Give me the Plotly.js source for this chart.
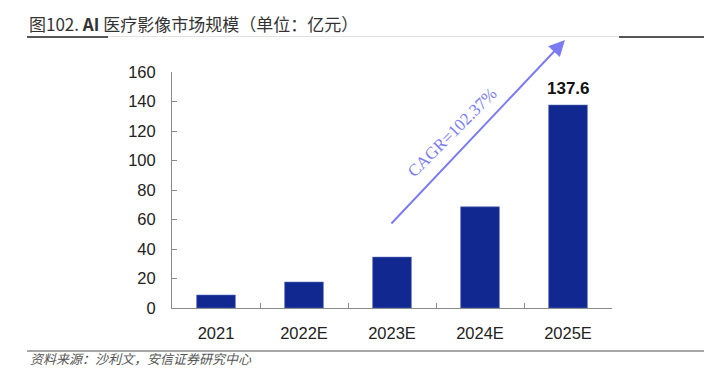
<!DOCTYPE html>
<html>
<head>
<meta charset="utf-8">
<script src="https://cdn.plot.ly/plotly-3.0.1.min.js"></script>
<style>html,body{margin:0;padding:0;background:#fff;}#chart{width:719px;height:376px;}</style>
</head>
<body>
<div id="chart"></div>
<script>
const categories = ["2021", "2022E", "2023E", "2024E", "2025E"];
const values = [8.8, 17.6, 34.5, 68.6, 137.6];
const yTicks = [0, 20, 40, 60, 80, 100, 120, 140, 160];
const titleText = "图102. <b>AI</b> 医疗影像市场规模（单位：亿元）";
const sourceText = "资料来源：沙利文，安信证券研究中心";
const cagrText = "CAGR=102.37%";

const W = 719, H = 376, L = 172, R = 107, T = 72, B = 68;
const pw = W - L - R, ph = H - T - B;
const px = x => (x - L) / pw;
const py = y => (H - B - y) / ph;

const barColor = "#10288f";
const arrowColor = "#7b7cf2";

const trace = {
  type: "bar",
  x: categories,
  y: values,
  marker: {color: barColor, line: {color: "#5d6cb8", width: 0.6}},
  width: 0.44,
  hoverinfo: "skip"
};

const layout = {
  width: W, height: H,
  margin: {l: L, r: R, t: T, b: B},
  paper_bgcolor: "#fff", plot_bgcolor: "#fff",
  showlegend: false,
  font: {family: "Liberation Sans, Arial, sans-serif", color: "#222"},
  xaxis: {
    type: "category",
    range: [-0.5, 4.5],
    showline: true, linecolor: "#8a8a8a", linewidth: 1,
    ticks: "inside", ticklen: 5, tickcolor: "#8a8a8a",
    tickson: "boundaries",
    showgrid: false, zeroline: false,
    tickfont: {size: 16.5, color: "#222"},
    ticklabelstandoff: 10
  },
  yaxis: {
    range: [0, 160],
    tickvals: yTicks,
    showline: true, linecolor: "#8a8a8a", linewidth: 1,
    ticks: "inside", ticklen: 5, tickcolor: "#8a8a8a",
    showgrid: false, zeroline: false,
    tickfont: {size: 16.5, color: "#222"},
    ticklabelstandoff: 12
  },
  shapes: [
    {type: "line", xref: "paper", yref: "paper", x0: px(27), x1: px(704), y0: py(36.5), y1: py(36.5), line: {color: "#e2e2e2", width: 1}},
    {type: "line", xref: "paper", yref: "paper", x0: px(27), x1: px(108), y0: py(37), y1: py(37), line: {color: "#555", width: 2}},
    {type: "line", xref: "paper", yref: "paper", x0: px(619), x1: px(704), y0: py(37), y1: py(37), line: {color: "#555", width: 2}},
    {type: "line", xref: "paper", yref: "paper", x0: px(27), x1: px(704), y0: py(351), y1: py(351), line: {color: "#888", width: 1.5}}
  ],
  annotations: [
    {xref: "paper", yref: "paper", x: px(27), y: py(23), xanchor: "left", yanchor: "middle",
     text: titleText, showarrow: false,
     font: {family: "Noto Sans CJK SC", size: 17, color: "#333"}},
    {xref: "paper", yref: "paper", x: px(28), y: py(358), xanchor: "left", yanchor: "middle",
     text: "<i>" + sourceText + "</i>", showarrow: false,
     font: {family: "Noto Sans CJK SC", size: 13, color: "#555"}},
    {x: categories[4], y: values[4], xref: "x", yref: "y", yanchor: "bottom", yshift: 5,
     text: "<b>" + values[4].toFixed(1) + "</b>", showarrow: false,
     font: {size: 17, color: "#111"}},
    {xref: "paper", yref: "paper", x: px(565), y: py(40), axref: "pixel", ayref: "pixel",
     ax: -175, ay: 185, text: "", showarrow: true, arrowhead: 2, arrowsize: 1.6, arrowwidth: 2,
     arrowcolor: arrowColor, standoff: 0},
    {xref: "paper", yref: "paper", x: px(452), y: py(132), xanchor: "center", yanchor: "middle",
     text: cagrText, showarrow: false, textangle: -45,
     font: {family: "Liberation Serif, Times New Roman, serif", size: 17, color: arrowColor}}
  ]
};

Plotly.newPlot("chart", [trace], layout, {displayModeBar: false, staticPlot: true});
</script>
</body>
</html>
